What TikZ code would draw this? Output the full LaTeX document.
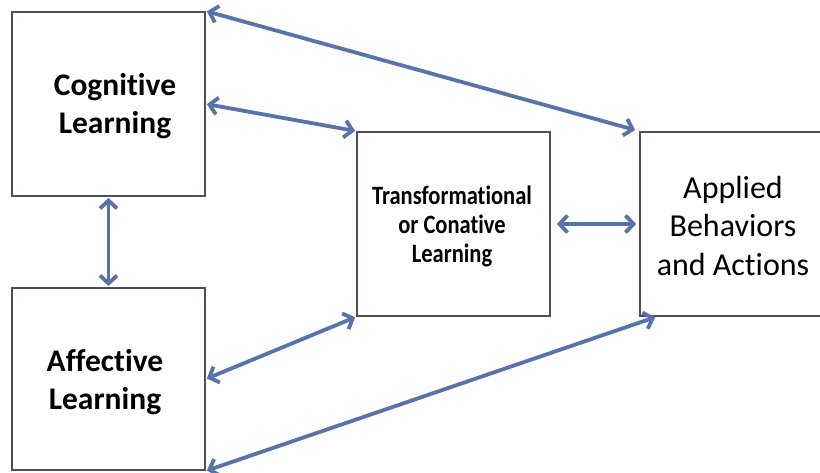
\documentclass[tikz,border=0pt]{standalone}
\usepackage{fontspec}
\setmainfont{Carlito}[Ligatures=NoCommon]
\usetikzlibrary{arrows.meta}
\definecolor{linkblue}{HTML}{5872AA}
\definecolor{boxline}{HTML}{4C4E5E}
\tikzset{
  box/.style={draw=boxline, line width=1.8pt, minimum width=193pt, minimum height=184pt,
    inner sep=0pt, align=center, fill=white},
  link/.style={draw=linkblue, line width=3.8pt,
    {Straight Barb[length=8pt,width=17pt]}-{Straight Barb[length=8pt,width=17pt]}},
}
\begin{document}
\begin{tikzpicture}[x=1pt,y=-1pt]
  \useasboundingbox (0,0) rectangle (820,473);
  \fill[white] (0,0) rectangle (820,473);

  % boxes
  \node[box] (cog) at (108.5,104) {};
  \node[box, minimum height=182pt] (aff) at (108.5,379) {};
  \node[box] (trans) at (453.5,224) {};
  \node[box, minimum width=190pt] (app) at (735,224) {};

  % labels
  \node[align=center, font=\fontsize{31.5}{38}\selectfont\bfseries] (cogt) at (115,106) {Cognitive\\Learning};
  \node[align=center, font=\fontsize{31.5}{38}\selectfont\bfseries] (afft) at (105,382) {Affective\\Learning};
  \node[align=center, font=\fontsize{26.5}{29}\selectfont\bfseries, xscale=0.85] (transt) at (452,226) {Transformational\\or Conative\\Learning};
  \node[align=center, font=\fontsize{32}{38.5}\selectfont] (appt) at (733,226) {Applied\\Behaviors\\and Actions};

  % connectors
  \draw[link, shorten <=1pt, shorten >=4pt] (cog.north east) -- (app.north west);
  \draw[link, shorten <=1pt, shorten >=1pt] (cog.east) -- (trans.north west);
  \draw[link, shorten <=1pt, shorten >=1pt] (cog.south) -- (aff.north);
  \draw[link, shorten <=1pt, shorten >=1pt] (aff.east) -- (trans.south west);
  \draw[link, shorten <=1pt, shorten >=1pt] (aff.south east) -- ([xshift=17pt]app.south west);
  \draw[link, shorten <=6pt, shorten >=3pt] (trans.east) -- (app.west);
\end{tikzpicture}
\end{document}
